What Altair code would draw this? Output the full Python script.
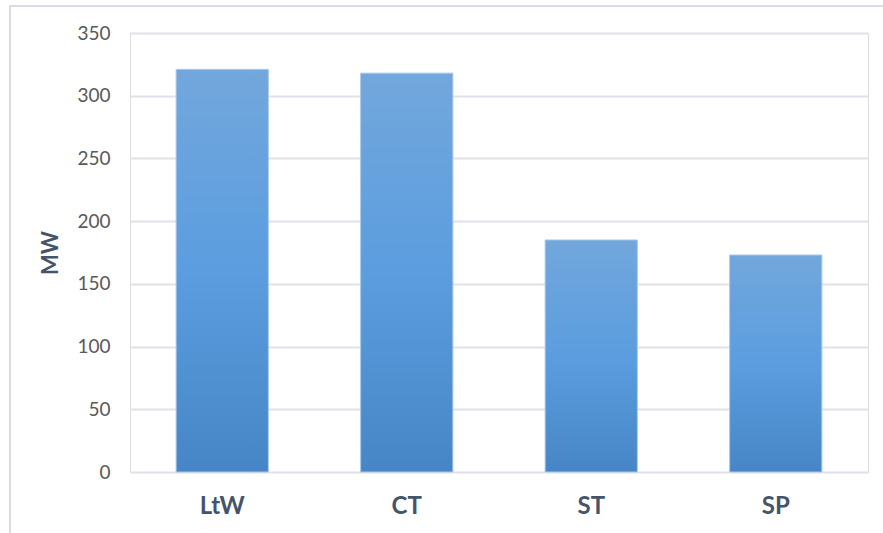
import altair as alt
import pandas as pd

# Installed capacity by plant type
plants = ["LtW", "CT", "ST", "SP"]
capacity_mw = [321, 318, 185, 173]
y_ticks = [0, 50, 100, 150, 200, 250, 300, 350]

df = pd.DataFrame({"plant": plants, "mw": capacity_mw})

W, H = 738, 439
FONT = "Lato"

bar_fill = alt.Gradient(
    gradient="linear",
    stops=[
        alt.GradientStop(color="#72a7dc", offset=0),
        alt.GradientStop(color="#5b9ddf", offset=0.5),
        alt.GradientStop(color="#4686c6", offset=1),
    ],
    x1=0, x2=0, y1=0, y2=1,
)

bars = alt.Chart(df).mark_bar(
    color=bar_fill, stroke="#a9c8ea", strokeWidth=1
).encode(
    x=alt.X(
        "plant:N", sort=plants, title=None,
        scale=alt.Scale(paddingInner=0.5, paddingOuter=0.25),
        axis=alt.Axis(
            labelAngle=0, labelFont=FONT, labelFontSize=24, labelFontWeight="bold",
            labelColor="#44546a", labelPadding=22, ticks=False, domain=False,
        ),
    ),
    y=alt.Y(
        "mw:Q", title="MW",
        scale=alt.Scale(domain=[0, 350], nice=False),
        axis=alt.Axis(
            values=y_ticks, labelFont=FONT, labelFontSize=19, labelColor="#595959",
            labelPadding=20, ticks=False, domain=False,
            gridColor="#dfe2e8", gridWidth=2,
            titleFont=FONT, titleFontSize=22, titleFontWeight="bold",
            titleColor="#44546a", titlePadding=14,
        ),
    ),
)

# outer chart frame (its right and bottom edges fall outside the canvas)
frame = alt.Chart(df).mark_rect(
    fill=None, stroke="#d9dde3", strokeWidth=2
).encode(
    x=alt.value(-120), x2=alt.value(W + 80),
    y=alt.value(-27), y2=alt.value(H + 100),
)

chart = alt.layer(frame, bars).properties(
    width=W, height=H,
    autosize=alt.AutoSizeParams(type="none"),
    padding={"left": 130, "top": 33, "right": 15, "bottom": 61},
).configure_view(stroke=None).configure(background="white")

chart.save("out.html", embed_options={"renderer": "svg", "actions": False})
